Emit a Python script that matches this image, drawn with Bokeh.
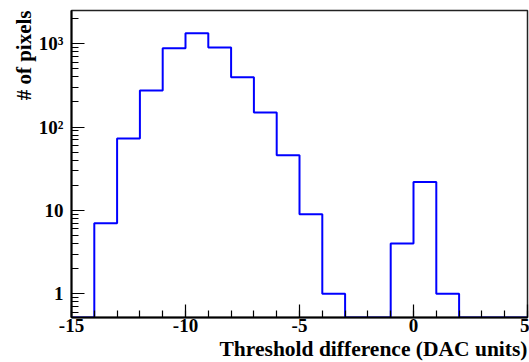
import numpy as np
from bokeh.plotting import figure
from bokeh.models import Range1d, FixedTicker, Title
from bokeh.embed import file_html
from bokeh.resources import INLINE

# Histogram data: bin edges (DAC units) and counts per bin
bin_edges = [-15, -14, -13, -12, -11, -10, -9, -8, -7, -6, -5, -4, -3, -2, -1, 0, 1, 2, 3, 4, 5]
counts = [0, 7, 73, 275, 880, 1330, 900, 395, 150, 46, 9, 1, 0, 0, 4, 22, 1, 0, 0, 0]

x_tick_values = [-15, -10, -5, 0, 5]
x_tick_labels = ["-15", "-10", "-5", "0", "5"]
y_tick_values = [1, 10, 100, 1000]
y_tick_labels = ["1", "10", "10\u00b2", "10\u00b3"]

y_min, y_max = 0.52, 2500

p = figure(width=529, height=362, y_axis_type="log",
           x_range=Range1d(-15, 5), y_range=Range1d(y_min, y_max),
           output_backend="svg", toolbar_location=None,
           min_border_left=71, min_border_right=2, min_border_top=10, min_border_bottom=45)

edges = np.array(bin_edges, dtype=float)
vals = np.maximum(np.array(counts, dtype=float), y_min)
xs = np.repeat(edges, 2)[1:-1]
ys = np.repeat(vals, 2)
p.line(xs, ys, line_color="#0000ff", line_width=2)

font = "Liberation Serif"
p.grid.visible = False
p.outline_line_color = "#222222"
p.outline_line_width = 1.5
p.background_fill_color = "white"
p.border_fill_color = "white"

minor_x = list(range(-15, 6))
p.xaxis.ticker = FixedTicker(ticks=x_tick_values, minor_ticks=minor_x)
p.xaxis.major_label_overrides = dict(zip(x_tick_values, x_tick_labels))

minor_y = []
for dec in [0.1, 1, 10, 100, 1000]:
    for m in range(2, 10):
        minor_y.append(dec * m)
p.yaxis.ticker = FixedTicker(ticks=y_tick_values, minor_ticks=minor_y)
p.yaxis.major_label_overrides = dict(zip(y_tick_values, y_tick_labels))

for ax in [p.xaxis[0], p.yaxis[0]]:
    ax.axis_line_width = 2
    ax.axis_line_color = "black"
    ax.major_tick_in = 13
    ax.major_tick_out = 0
    ax.minor_tick_in = 7
    ax.minor_tick_out = 0
    ax.major_tick_line_width = 1.2
    ax.minor_tick_line_width = 1.2
    ax.major_label_text_font = font
    ax.major_label_text_font_style = "bold"
    ax.major_label_text_font_size = "19px"
    ax.major_label_text_color = "black"

p.xaxis.major_label_standoff = 1
p.yaxis.major_label_standoff = 8

p.add_layout(Title(text="Threshold difference (DAC units)", align="right",
                   text_font=font, text_font_style="bold", text_font_size="21.5px",
                   text_color="black", standoff=0, offset=0), "below")
p.add_layout(Title(text="# of pixels", align="right",
                   text_font=font, text_font_style="bold", text_font_size="21px",
                   text_color="black", standoff=0, offset=0), "left")

open("out.html", "w").write(file_html(p, INLINE))
